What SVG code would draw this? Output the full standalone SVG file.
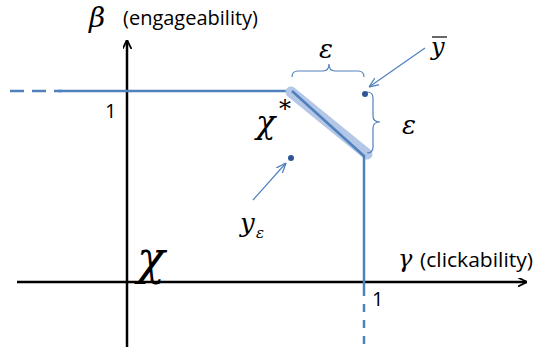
<svg xmlns="http://www.w3.org/2000/svg" width="540" height="347" viewBox="0 0 540 347">
<defs>
<style>
.ax{stroke:#000;stroke-width:2.5;fill:none}
.bl{stroke:#4f81bd;stroke-width:2.5;fill:none}
.br{stroke:#4f81bd;stroke-width:1.2;fill:none}
.ar{stroke:#4f81bd;stroke-width:1.2;fill:none}
.lbl{font-family:"Open Sans","Liberation Sans",Arial,sans-serif;font-size:20px;fill:#000}
.gr{font-family:"DejaVu Serif","Liberation Serif",serif;font-style:italic;fill:#000}
.dot{fill:#2f5597}
</style>
<marker id="ah" viewBox="0 0 10 10" refX="10" refY="5" markerWidth="9" markerHeight="9" markerUnits="userSpaceOnUse" orient="auto"><path d="M0,0 L10,5 L0,10" fill="none" stroke="#000" stroke-width="2"/></marker>
<marker id="bh" viewBox="0 0 10 10" refX="10" refY="5" markerWidth="10" markerHeight="10" markerUnits="userSpaceOnUse" orient="auto"><path d="M0,1 L10,5 L0,9" fill="none" stroke="#4f81bd" stroke-width="1.3"/></marker>
</defs>
<g id="axes">
<line class="ax" x1="17" y1="282" x2="527" y2="282" marker-end="url(#ah)"/>
<line class="ax" x1="127" y1="347" x2="127" y2="40" marker-end="url(#ah)"/>
</g>
<g id="boundary">
<line class="bl" x1="10" y1="91" x2="62" y2="91" stroke-dasharray="14,8"/>
<line class="bl" x1="58" y1="91" x2="292" y2="91"/>
<line x1="291" y1="92" x2="367" y2="154" stroke="#b4c7e7" stroke-width="11" stroke-linecap="round"/>
<line class="bl" x1="292" y1="91" x2="364" y2="156"/>
<line class="bl" x1="364" y1="155" x2="364" y2="288"/>
<line class="bl" x1="364" y1="288" x2="364" y2="347" stroke-dasharray="8,8"/>
</g>
<g id="braces">
<path class="br" d="M292,77 Q292,71 298,71 L323,71 Q329,71 329,64 Q329,71 335,71 L358,71 Q364,71 364,77"/>
<path class="br" d="M367,92 Q373,92 373,98 L373,116 Q373,122 380,122 Q373,122 373,128 L373,147 Q373,153 367,153"/>
</g>
<g id="points">
<circle class="dot" cx="365" cy="94" r="3"/>
<circle class="dot" cx="291" cy="158" r="3"/>
</g>
<g id="connectors">
<line class="ar" x1="425" y1="48" x2="369" y2="87" marker-end="url(#bh)"/>
<line class="ar" x1="253" y1="200" x2="286" y2="163" marker-end="url(#bh)"/>
</g>
<g id="labels">
<text class="gr" x="89" y="27" font-size="28">β</text>
<text class="lbl" x="123" y="25" textLength="135" lengthAdjust="spacingAndGlyphs">(engageability)</text>
<text class="gr" x="398" y="267" font-size="24">γ</text>
<text class="lbl" x="420" y="267" textLength="113" lengthAdjust="spacingAndGlyphs">(clickability)</text>
<text class="lbl" x="105" y="118">1</text>
<text class="lbl" x="372" y="306">1</text>
<text class="gr" x="256" y="133" font-size="32">χ</text>
<text class="gr" x="279" y="117" font-size="24">*</text>
<text class="gr" x="137" y="274" font-size="46">χ</text>
<text class="gr" x="319" y="58" font-size="26">ε</text>
<text class="gr" x="402" y="134" font-size="26">ε</text>
<text class="gr" x="431" y="55" font-size="24">y</text>
<line x1="432" y1="37" x2="447" y2="37" stroke="#000" stroke-width="1.2"/>
<text class="gr" x="240" y="232" font-size="26">y</text>
<text class="gr" x="256" y="238" font-size="15">ε</text>
</g>
</svg>
